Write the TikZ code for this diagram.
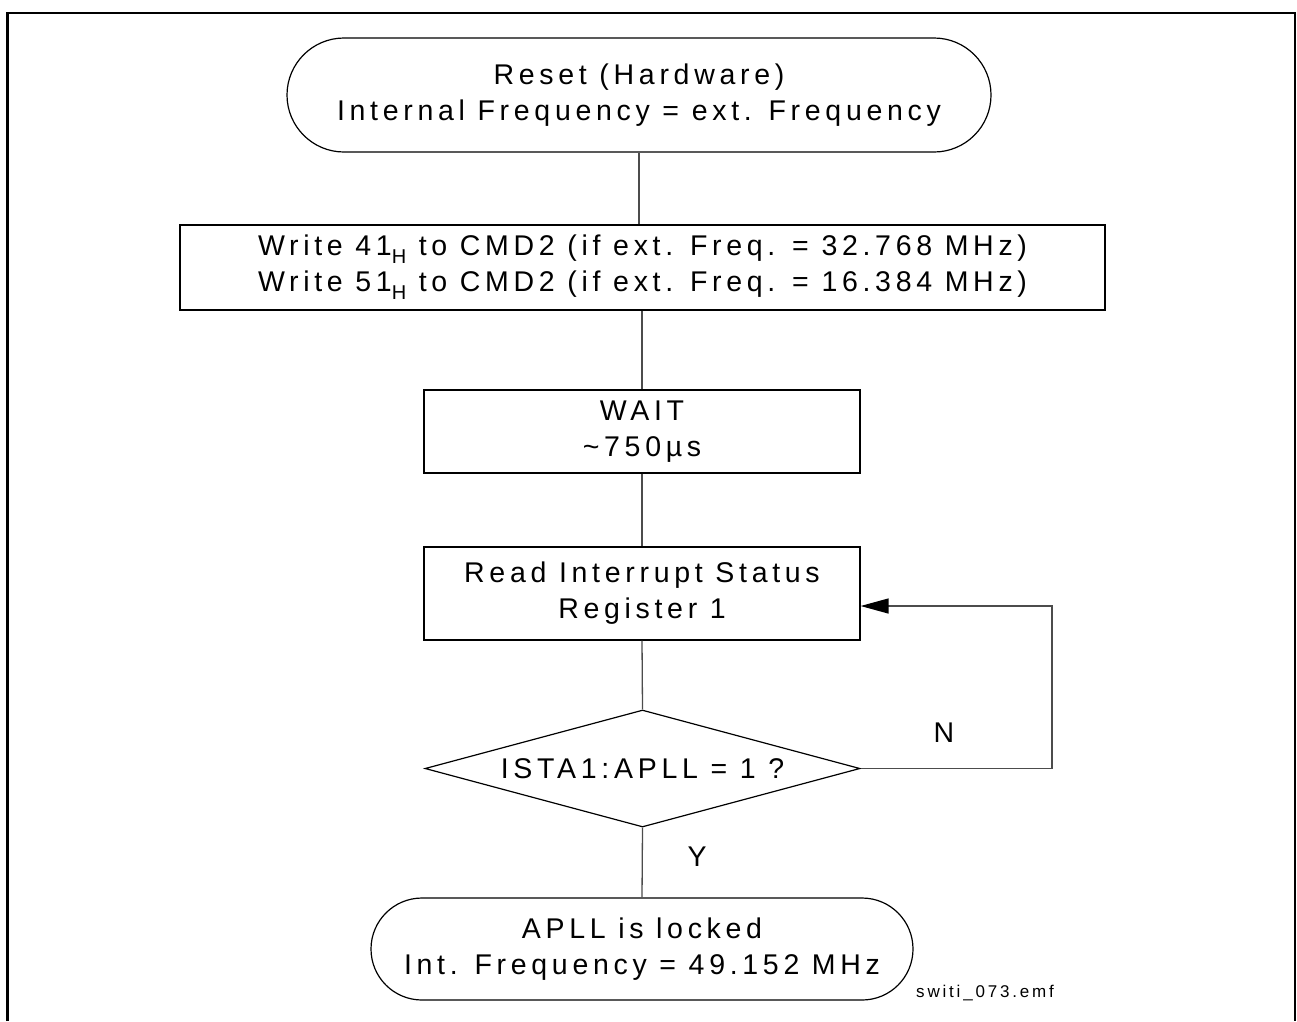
\documentclass[tikz,border=0pt]{standalone}
\usepackage{fontspec}
\setmainfont{Liberation Sans}[LetterSpace=16.5]
\usetikzlibrary{shapes.geometric,shapes.misc,arrows.meta}
\newcommand\subH{\raisebox{-8pt}{\fontsize{20}{20}\selectfont H}}
\begin{document}
\begin{tikzpicture}[x=1pt,y=-1pt,
  txt/.style={align=center,font=\fontsize{28.5}{36}\selectfont},
  box/.style={txt,draw,line width=1.2pt,rectangle,inner sep=0pt},
  term/.style={txt,draw,line width=1.2pt,rounded rectangle,inner sep=0pt},
  decision/.style={txt,draw,line width=1.2pt,diamond,shape aspect=3.72,inner sep=0pt},
  conn/.style={draw=black!70,line width=1.3pt},
  lbl/.style={font=\fontsize{28.5}{28.5}\selectfont}]
\useasboundingbox (0,0) rectangle (1297,1021);
\draw[line width=2.5pt] (7.5,1021) -- (7.5,13) -- (1295,13) -- (1295,1021);

\node[term,minimum width=704pt,minimum height=114pt] (start) at (639,95)
  {Reset (Hardware)\\Internal Frequency = ext. Frequency};
\node[box,minimum width=925pt,minimum height=85pt] (cmd) at (642.5,267.5)
  {Write 41\subH{} to CMD2 (if ext. Freq. = 32.768 MHz)\\Write 51\subH{} to CMD2 (if ext. Freq. = 16.384 MHz)};
\node[box,minimum width=436pt,minimum height=83pt] (wait) at (642,431.5)
  {WAIT\\\textasciitilde750µs};
\node[box,minimum width=436pt,minimum height=93pt] (read) at (642,593.5)
  {Read Interrupt Status\\Register 1};
\node[decision,minimum width=435pt,minimum height=117pt] (dec) at (642.5,768.5)
  {ISTA1:APLL = 1 ?};
\node[term,minimum width=542pt,minimum height=102pt] (end) at (642,949)
  {APLL is locked\\Int. Frequency = 49.152 MHz};

\draw[conn] (start.south) -- (start.south |- cmd.north);
\draw[conn] (wait.north |- cmd.south) -- (wait.north);
\draw[conn] (wait.south) -- (read.north);
\draw[conn] (read.south) -- (dec.north);
\draw[conn] (dec.south) -- (end.north);
\coordinate (corner) at (1052,768.5);
\draw[conn,-{Triangle[length=28pt,width=15pt,color=black,fill=black]}] (dec.east) -- (corner) |- ([yshift=-12.5pt]read.east);

\node[lbl] (n) at (944,733) {N};
\node[lbl] (y) at (697,857) {Y};
\node[font=\fontsize{17}{17}\selectfont] (fname) at (985,993) {switi\_073.emf};
\end{tikzpicture}
\end{document}
